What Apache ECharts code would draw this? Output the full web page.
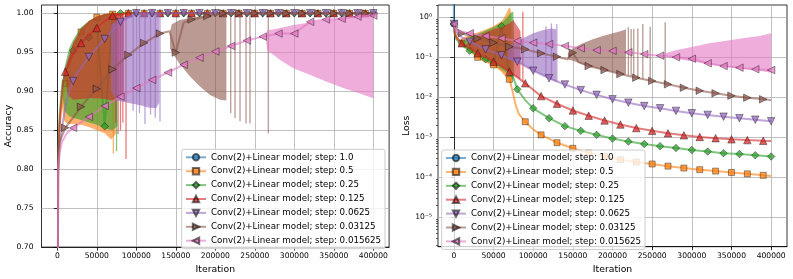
<!DOCTYPE html>
<html>
<head>
<meta charset="utf-8">
<script src="https://cdn.jsdelivr.net/npm/echarts@6/dist/echarts.min.js"></script>
<style>
html,body{margin:0;padding:0;background:#fff;}
#chart{width:793px;height:279px;}
</style>
</head>
<body>
<div id="chart"></div>
<script>
// ---------------- data ----------------
const stepLabels = ['1.0','0.5','0.25','0.125','0.0625','0.03125','0.015625'];
const xTicks = [0,50000,100000,150000,200000,250000,300000,350000,400000];
const accTicks = [0.70,0.75,0.80,0.85,0.90,0.95,1.00];
const lossTicks = [1e-5,1e-4,1e-3,1e-2,1e-1,1];
const lossMinorTicks = [2e-6,3e-6,4e-6,5e-6,6e-6,7e-6,8e-6,9e-6,2e-5,3e-5,4e-5,5e-5,6e-5,7e-5,8e-5,9e-5,
  2e-4,3e-4,4e-4,5e-4,6e-4,7e-4,8e-4,9e-4,2e-3,3e-3,4e-3,5e-3,6e-3,7e-3,8e-3,9e-3,
  0.02,0.03,0.04,0.05,0.06,0.07,0.08,0.09,0.2,0.3,0.4,0.5,0.6,0.7,0.8,0.9,2];

// Accuracy trend lines [iteration, accuracy]
const accBlue = [[0,0.1],[300,0.1]];
const accOrange = [[0,0.1],[1000,0.8],[3000,0.855],[6000,0.89],[10000,0.91],[20000,0.955],[30000,0.976],[40000,0.988],[50000,0.995],[60000,0.998],[70000,0.999],[90000,1],[110000,1],[130000,1],[150000,1],[170000,1],[190000,1],[210000,1],[230000,1],[250000,1],[270000,1],[290000,1],[310000,1],[330000,1],[350000,1],[370000,1],[390000,1],[400000,1]];
const accGreen = [[0,0.1],[1000,0.81],[3000,0.87],[6000,0.905],[10000,0.925],[20000,0.952],[30000,0.962],[40000,0.969],[50000,0.985],[60000,0.855],[70000,0.996],[80000,1],[100000,1],[120000,1],[140000,1],[160000,1],[180000,1],[200000,1],[220000,1],[240000,1],[260000,1],[280000,1],[300000,1],[320000,1],[340000,1],[360000,1],[380000,1],[400000,1]];
const accRed = [[0,0.1],[1000,0.8],[3000,0.86],[6000,0.9],[10000,0.925],[20000,0.948],[30000,0.962],[40000,0.972],[50000,0.981],[60000,0.99],[70000,0.997],[80000,0.999],[90000,1],[110000,1],[130000,1],[150000,1],[170000,1],[190000,1],[210000,1],[230000,1],[250000,1],[270000,1],[290000,1],[310000,1],[330000,1],[350000,1],[370000,1],[390000,1],[400000,1]];
const accPurple = [[0,0.1],[1000,0.79],[3000,0.83],[7000,0.86],[12000,0.889],[20000,0.913],[25000,0.923],[40000,0.944],[60000,0.967],[80000,0.989],[100000,1],[120000,1],[140000,1],[160000,1],[180000,1],[200000,1],[220000,1],[240000,1],[260000,1],[280000,1],[300000,1],[320000,1],[340000,1],[360000,1],[380000,1],[400000,1]];
const accBrown = [[0,0.1],[1000,0.8],[3000,0.835],[10000,0.853],[20000,0.866],[30000,0.88],[40000,0.892],[50000,0.903],[70000,0.928],[90000,0.9465],[110000,0.962],[130000,0.974],[142000,0.977],[150000,0.9495],[160000,0.988],[170000,0.992],[190000,0.9965],[210000,1],[230000,1],[250000,1],[270000,1],[290000,1],[310000,1],[330000,1],[350000,1],[370000,1],[390000,1],[400000,1]];
const accPink = [[0,0.1],[1000,0.8],[3000,0.822],[6000,0.835],[12000,0.846],[20000,0.853],[40000,0.867],[60000,0.881],[80000,0.893],[100000,0.904],[120000,0.9145],[140000,0.924],[160000,0.934],[180000,0.943],[200000,0.951],[220000,0.958],[240000,0.965],[260000,0.97],[280000,0.974],[300000,0.974],[320000,0.989],[340000,0.992],[360000,0.993],[380000,0.9957],[400000,0.997]];

// Accuracy oscillation envelopes [iteration, low, high]
const accBandOrange = [[6000,0.88,0.89],[8000,0.865,0.905],[10000,0.86,0.92],[15000,0.858,0.945],[20000,0.858,0.962],[30000,0.857,0.98],[40000,0.854,0.99],[50000,0.85,0.995],[60000,0.846,0.999],[68000,0.838,1],[74000,0.845,1]];
const accBandGreen = [[6000,0.9,0.91],[9000,0.875,0.93],[15000,0.868,0.955],[20000,0.866,0.966],[30000,0.863,0.982],[40000,0.86,0.99],[50000,0.857,0.996],[60000,0.852,0.999],[70000,0.85,1],[76000,0.855,1]];
const accBandRed = [[10000,0.915,0.93],[13000,0.895,0.94],[20000,0.889,0.962],[30000,0.89,0.98],[40000,0.891,0.99],[50000,0.891,0.996],[60000,0.89,0.999],[70000,0.888,1],[80000,0.89,1],[84000,0.9,1]];
const accBandPurple = [[68000,0.9,0.985],[75000,0.888,0.99],[85000,0.886,0.995],[95000,0.884,0.998],[105000,0.882,1],[115000,0.879,1],[125000,0.878,1],[129000,0.885,1]];
const accBandBrown = [[142700,0.955,0.977],[145000,0.95,0.986],[155000,0.935,0.9915],[168000,0.919,0.994],[180600,0.906,0.996],[193300,0.895,0.998],[206000,0.889,0.999],[214000,0.888,1]];
const accBandPink = [[264000,0.968,0.972],[265500,0.953,0.978],[282000,0.94,0.981],[298700,0.9295,0.985],[319800,0.921,0.988],[341000,0.912,0.991],[362000,0.904,0.994],[383000,0.897,0.997],[400000,0.891,0.999]];

// Accuracy isolated drops [iteration, low, high]
const accSpikeOrange = [[71000,0.82,1]];
const accSpikeGreen = [[75000,0.823,1]];
const accSpikeRed = [[74000,0.86,1],[77000,0.845,1],[80000,0.85,1],[83000,0.86,1],[87000,0.813,1]];
const accSpikePurple = [[96000,0.875,1],[104000,0.872,1],[111000,0.858,1],[118000,0.87,1],[124000,0.866,1],[130000,0.861,1]];
const accSpikeBrown = [[219500,0.872,1],[225000,0.8655,1],[231300,0.8615,1],[238900,0.8585,1],[243900,0.8585,1],[267100,0.846,1]];

// Loss trend lines [iteration, loss]
const lossBlue = [[0,0.68],[300,50]];
const lossOrange = [[0,0.68],[1000,0.45],[3000,0.32],[10000,0.224],[20000,0.145],[30000,0.1],[40000,0.0794],[50000,0.0646],[60000,0.0468],[70000,0.0282],[74000,0.0141],[78000,0.0063],[82000,0.0038],[90000,0.00245],[100000,0.00158],[110000,0.00115],[130000,0.000733],[150000,0.000531],[170000,0.000407],[190000,0.000331],[210000,0.000275],[230000,0.00024],[250000,0.000215],[270000,0.00019],[290000,0.00017],[310000,0.000155],[330000,0.000143],[350000,0.000132],[370000,0.000122],[390000,0.000112],[400000,0.000108]];
const lossGreen = [[0,0.68],[1000,0.4],[3000,0.28],[10000,0.2],[20000,0.146],[30000,0.112],[40000,0.089],[50000,0.0676],[60000,0.606],[70000,0.038],[75000,0.03],[78000,0.021],[80000,0.0158],[90000,0.0085],[100000,0.0053],[120000,0.003],[140000,0.0019],[160000,0.00145],[180000,0.00115],[200000,0.00093],[220000,0.00078],[240000,0.00068],[260000,0.0006],[280000,0.00054],[300000,0.00048],[320000,0.00044],[340000,0.0004],[360000,0.00038],[380000,0.000355],[400000,0.00033]];
const lossRed = [[0,0.68],[1000,0.4],[3000,0.32],[10000,0.224],[20000,0.166],[30000,0.126],[40000,0.1],[50000,0.0776],[60000,0.0589],[70000,0.0437],[80000,0.0316],[90000,0.0224],[100000,0.0155],[110000,0.0107],[130000,0.0069],[150000,0.00468],[170000,0.00347],[190000,0.00263],[210000,0.00209],[230000,0.0017],[250000,0.00145],[270000,0.00126],[290000,0.00112],[310000,0.00102],[330000,0.00095],[350000,0.00089],[370000,0.00085],[390000,0.00082],[400000,0.00081]];
const lossPurple = [[0,0.68],[1000,0.5],[5000,0.38],[10000,0.316],[20000,0.245],[40000,0.158],[60000,0.112],[80000,0.0776],[100000,0.0462],[120000,0.0299],[140000,0.0209],[160000,0.0151],[180000,0.0115],[200000,0.0089],[220000,0.00733],[240000,0.00603],[260000,0.00531],[280000,0.00457],[300000,0.00398],[320000,0.00363],[340000,0.00327],[360000,0.00299],[380000,0.00275],[400000,0.00251]];
const lossBrown = [[0,0.68],[1000,0.56],[10000,0.398],[30000,0.295],[50000,0.232],[70000,0.184],[90000,0.158],[110000,0.126],[130000,0.1035],[143000,0.089],[150000,0.13],[157000,0.076],[170000,0.0603],[190000,0.0479],[210000,0.038],[230000,0.0309],[250000,0.0257],[270000,0.0211],[290000,0.0174],[310000,0.0146],[330000,0.0126],[350000,0.011],[370000,0.0098],[390000,0.0089],[400000,0.0085]];
const lossPink = [[0,0.68],[1000,0.525],[5000,0.468],[10000,0.437],[20000,0.398],[40000,0.339],[60000,0.299],[80000,0.257],[100000,0.232],[120000,0.214],[140000,0.193],[160000,0.168],[180000,0.151],[200000,0.145],[220000,0.133],[240000,0.12],[260000,0.11],[280000,0.1],[300000,0.0923],[320000,0.0708],[340000,0.0603],[360000,0.055],[380000,0.0501],[400000,0.0479]];

// Loss oscillation envelopes [iteration, low, high]
const lossBandOrange = [[8000,0.25,0.282],[10000,0.224,0.3],[20000,0.145,0.363],[30000,0.1,0.417],[41000,0.078,0.5],[50000,0.0646,0.603],[60000,0.0468,0.794],[65000,0.038,1.12],[69000,0.03,1.66],[71000,0.024,1.78],[72500,0.018,1.2]];
const lossBandGreen = [[10000,0.2,0.24],[20000,0.146,0.316],[30000,0.112,0.38],[40000,0.089,0.468],[50000,0.0676,0.562],[60000,0.05,0.708],[68000,0.039,1.05],[72000,0.033,1.32],[75000,0.03,1.38],[76000,0.025,0.3]];
const lossBandRed = [[15000,0.19,0.2],[20000,0.166,0.251],[30000,0.126,0.355],[40000,0.1,0.417],[50000,0.0776,0.5],[60000,0.0589,0.562],[70000,0.0437,0.708],[75000,0.037,0.85],[80000,0.0316,0.6],[84000,0.027,0.45]];
const lossBandPurple = [[68000,0.09,0.2],[77000,0.08,0.224],[87000,0.065,0.3],[100000,0.0462,0.398],[113000,0.035,0.479],[123000,0.028,0.525],[129000,0.024,0.5]];
const lossBandBrown = [[143700,0.089,0.126],[150000,0.082,0.168],[162600,0.066,0.224],[175200,0.057,0.282],[187800,0.049,0.339],[200400,0.043,0.398],[211000,0.038,0.457],[217000,0.036,0.5]];
const lossBandPink = [[264000,0.107,0.112],[266800,0.107,0.126],[280000,0.093,0.151],[301200,0.078,0.184],[322200,0.066,0.224],[343300,0.058,0.26],[364200,0.051,0.3],[385300,0.046,0.339],[400000,0.041,0.398]];

// Loss isolated spikes [iteration, low, high]
const lossSpikeRed = [[87000,0.024,1.38]];
const lossSpikePurple = [[116000,0.033,0.6],[123000,0.028,0.7],[129800,0.024,0.676]];
const lossSpikeBrown = [[220000,0.035,0.562],[223500,0.034,0.513],[226800,0.033,0.513],[231900,0.031,0.525],[238200,0.029,0.676],[247500,0.026,0.582],[266400,0.021,0.75]];

// ---------------- styles ----------------
const colors = ['#1f77b4','#ff7f0e','#2ca02c','#d62728','#9467bd','#8c564b','#e377c2'];
const fills  = ['rgba(31,119,180,0.75)','rgba(255,127,14,0.75)','rgba(44,160,44,0.75)','rgba(214,39,40,0.75)','rgba(148,103,189,0.75)','rgba(140,86,75,0.75)','rgba(227,119,194,0.75)'];
const symbols = ['circle','rect','diamond','triangle','triangle','triangle','triangle'];
const symSizes = [6.5,6,7.5,7.5,7.5,7.5,7.5];
const rotates = [0,0,0,0,180,-90,90];
const markOffset = [0,10000,0,10000,0,10000,0];
const FONT = 'DejaVu Sans';
const names = stepLabels.map(s => 'Conv(2)+Linear model; step: ' + s);

const accLines = [accBlue,accOrange,accGreen,accRed,accPurple,accBrown,accPink];
const accBands = [[],accBandOrange,accBandGreen,accBandRed,accBandPurple,accBandBrown,accBandPink];
const accSpikes = [[],accSpikeOrange,accSpikeGreen,accSpikeRed,accSpikePurple,accSpikeBrown,[]];
const lossLines = [lossBlue,lossOrange,lossGreen,lossRed,lossPurple,lossBrown,lossPink];
const lossBands = [[],lossBandOrange,lossBandGreen,lossBandRed,lossBandPurple,lossBandBrown,lossBandPink];
const lossSpikes = [[],[],[],lossSpikeRed,lossSpikePurple,lossSpikeBrown,[]];

function bandSeries(data, i, ax, z) {
  return {
    type: 'custom', name: 'band' + ax + '_' + i, xAxisIndex: ax, yAxisIndex: ax, clip: true, silent: true, z: z,
    data: data,
    renderItem: function (params, api) {
      if (params.dataIndex !== 0) return null;
      const up = [], lo = [];
      for (let k = 0; k < data.length; k++) {
        up.push(api.coord([data[k][0], data[k][2]]));
        lo.push(api.coord([data[k][0], data[k][1]]));
      }
      return { type: 'polygon', shape: { points: up.concat(lo.reverse()) }, style: { fill: colors[i], opacity: 0.6 } };
    }
  };
}
function spikeSeries(data, i, ax, z) {
  return {
    type: 'custom', name: 'spike' + ax + '_' + i, xAxisIndex: ax, yAxisIndex: ax, clip: true, silent: true, z: z,
    data: data,
    renderItem: function (params, api) {
      const a = api.coord([api.value(0), api.value(1)]);
      const b = api.coord([api.value(0), api.value(2)]);
      return { type: 'line', shape: { x1: a[0], y1: a[1], x2: b[0], y2: b[1] }, style: { stroke: colors[i], lineWidth: 1.3, opacity: 0.6 } };
    }
  };
}
function lineSeries(data, i, ax, z) {
  const d = data.map(p => (p[0] >= markOffset[i] && (p[0] - markOffset[i]) % 20000 === 0) ? p : { value: p, symbol: 'none' });
  return {
    type: 'line', name: names[i], xAxisIndex: ax, yAxisIndex: ax, z: z, data: d,
    symbol: symbols[i], symbolSize: symSizes[i], symbolRotate: rotates[i],
    lineStyle: { color: colors[i], width: 2, opacity: 0.6 },
    itemStyle: { color: fills[i], borderColor: 'rgba(0,0,0,0.55)', borderWidth: 0.7 },
    emphasis: { disabled: true }
  };
}

const series = [];
for (let i = 0; i < 7; i++) {
  const z = 2 + i;
  if (accBands[i].length) series.push(bandSeries(accBands[i], i, 0, z));
  if (accSpikes[i].length) series.push(spikeSeries(accSpikes[i], i, 0, z));
  series.push(lineSeries(accLines[i], i, 0, z));
  if (lossBands[i].length) series.push(bandSeries(lossBands[i], i, 1, z));
  if (lossSpikes[i].length) series.push(spikeSeries(lossSpikes[i], i, 1, z));
  series.push(lineSeries(lossLines[i], i, 1, z));
}

const sup = {'0':'⁰','1':'¹','2':'²','3':'³','4':'⁴','5':'⁵','6':'⁶','-':'⁻'};
function logLabel(v) {
  const e = Math.round(Math.log10(v));
  return '10' + String(e).split('').map(c => sup[c]).join('');
}

function xAxisCfg(gi) {
  return {
    type: 'value', gridIndex: gi, min: -20000, max: 420000,
    axisLine: { show: true, lineStyle: { color: '#000', width: 0.8 } },
    axisTick: { length: 3.5, customValues: xTicks, lineStyle: { color: '#000', width: 0.8 } },
    axisLabel: { customValues: xTicks, color: '#000', fontSize: 7.6, fontFamily: FONT, margin: 5, formatter: v => String(v) },
    splitLine: { show: true, lineStyle: { color: '#b0b0b0', width: 0.8 } },
    name: 'Iteration', nameLocation: 'middle', nameGap: 15,
    nameTextStyle: { color: '#000', fontSize: 9.3, fontFamily: FONT }
  };
}
const legendBase = {
  orient: 'vertical', itemWidth: 20, itemHeight: 8, itemGap: 4.9,
  padding: [3.5, 4, 3.5, 3.3],
  backgroundColor: 'rgba(255,255,255,0.8)', borderColor: '#cccccc', borderWidth: 1, borderRadius: 2,
  textStyle: { color: '#000', fontSize: 8.7, fontFamily: FONT, lineHeight: 8 },
  data: names, selectedMode: false
};

const option = {
  animation: false,
  backgroundColor: '#fff',
  grid: [
    { left: 41.5, top: 5, width: 347.6, height: 242.3, show: true, borderColor: '#000', borderWidth: 0.8, backgroundColor: 'transparent' },
    { left: 438, top: 5, width: 349, height: 241.7, show: true, borderColor: '#000', borderWidth: 0.8, backgroundColor: 'transparent' }
  ],
  xAxis: [xAxisCfg(0), xAxisCfg(1)],
  yAxis: [
    {
      type: 'value', gridIndex: 0, min: 0.7, max: 1.0106,
      axisLine: { show: true, lineStyle: { color: '#000', width: 0.8 } },
      axisTick: { length: 3.5, customValues: accTicks, lineStyle: { color: '#000', width: 0.8 } },
      axisLabel: { customValues: accTicks, color: '#000', fontSize: 7.6, fontFamily: FONT, margin: 8, formatter: v => v.toFixed(2) },
      splitLine: { show: true, lineStyle: { color: '#b0b0b0', width: 0.8 } },
      name: 'Accuracy', nameLocation: 'middle', nameGap: 28,
      nameTextStyle: { color: '#000', fontSize: 9.3, fontFamily: FONT }
    },
    {
      type: 'log', gridIndex: 1, min: 1.84e-6, max: 2.03, position: 'left',
      axisLine: { show: true, lineStyle: { color: '#000', width: 0.8 } },
      axisTick: { length: 3.5, customValues: lossTicks, lineStyle: { color: '#000', width: 0.8 } },
      axisLabel: { customValues: lossTicks, color: '#000', fontSize: 7.6, fontFamily: FONT, margin: 6, formatter: logLabel },
      splitLine: { show: true, lineStyle: { color: '#b0b0b0', width: 0.8 } },
      name: 'Loss', nameLocation: 'middle', nameGap: 27,
      nameTextStyle: { color: '#000', fontSize: 9.3, fontFamily: FONT }
    },
    {
      type: 'log', gridIndex: 1, min: 1.84e-6, max: 2.03, position: 'left', offset: 0,
      axisLine: { show: false },
      axisTick: { show: true, length: 2, customValues: lossMinorTicks, lineStyle: { color: '#000', width: 0.6 } },
      axisLabel: { show: false },
      splitLine: { show: false }
    }
  ],
  legend: [
    Object.assign({}, legendBase, { left: 181.7, top: 149.3 }),
    Object.assign({}, legendBase, { left: 441.7, top: 150 })
  ],
  series: series
};

const chart = echarts.init(document.getElementById('chart'), null, { renderer: 'canvas' });
chart.setOption(option);
</script>
</body>
</html>
